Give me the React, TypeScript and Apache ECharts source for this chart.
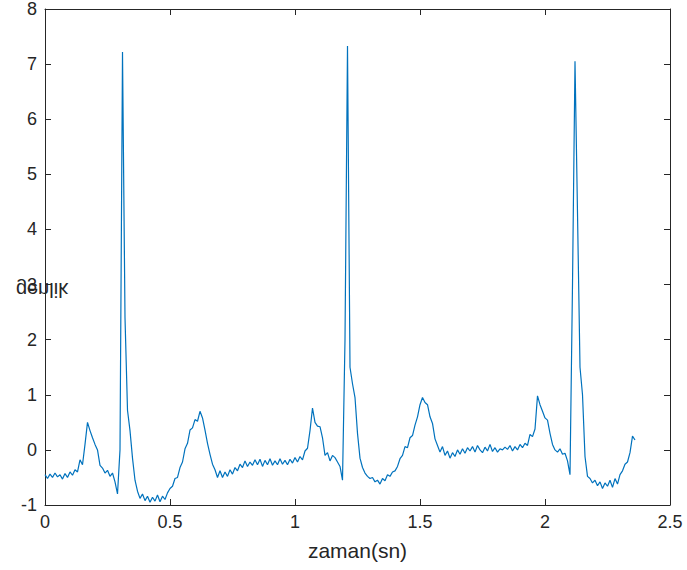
import React, { useEffect, useRef } from "react";
import * as echarts from "echarts";

// ECG trace sampled every 10 ms starting at t = 0 s
const sampleStart = 0;
const samplePeriod = 0.01;
const voltage: number[] = [
  -0.45, -0.52, -0.44, -0.50, -0.42, -0.49, -0.45, -0.53, -0.43, -0.50,
  -0.40, -0.46, -0.36, -0.40, -0.18, -0.27, 0.10, 0.50, 0.35, 0.22,
  0.10, 0.00, -0.28, -0.33, -0.42, -0.37, -0.48, -0.42, -0.58, -0.80,
  0.00, 7.22, 2.40, 0.72, 0.35, -0.15, -0.55, -0.75, -0.88, -0.80,
  -0.92, -0.84, -0.95, -0.86, -0.93, -0.82, -0.94, -0.84, -0.90, -0.78,
  -0.70, -0.66, -0.52, -0.50, -0.32, -0.22, 0.02, 0.12, 0.36, 0.40,
  0.55, 0.52, 0.70, 0.58, 0.36, 0.12, -0.08, -0.26, -0.36, -0.50,
  -0.38, -0.50, -0.40, -0.48, -0.36, -0.44, -0.32, -0.38, -0.26, -0.32,
  -0.20, -0.30, -0.22, -0.28, -0.18, -0.27, -0.17, -0.30, -0.19, -0.27,
  -0.16, -0.28, -0.20, -0.27, -0.16, -0.26, -0.19, -0.27, -0.17, -0.24,
  -0.14, -0.22, -0.12, -0.18, -0.02, 0.03, 0.35, 0.76, 0.50, 0.43,
  0.42, 0.22, -0.10, -0.05, -0.20, -0.10, -0.14, -0.22, -0.30, -0.55,
  2.00, 7.33, 1.50, 1.20, 0.95, 0.30, -0.15, -0.32, -0.42, -0.48,
  -0.52, -0.50, -0.58, -0.55, -0.62, -0.52, -0.56, -0.45, -0.48, -0.40,
  -0.38, -0.30, -0.16, -0.10, 0.06, 0.04, 0.22, 0.26, 0.45, 0.60,
  0.82, 0.95, 0.86, 0.82, 0.60, 0.48, 0.20, 0.08, -0.04, 0.06,
  -0.10, -0.02, -0.15, -0.05, -0.12, 0.00, -0.08, 0.02, -0.06, 0.04,
  -0.02, 0.06, -0.04, 0.08, 0.00, -0.05, 0.05, -0.02, 0.10, -0.03,
  0.04, -0.04, 0.02, 0.00, 0.05, 0.01, 0.08, -0.02, 0.06, 0.00,
  0.10, 0.04, 0.12, 0.08, 0.28, 0.24, 0.38, 0.98, 0.82, 0.70,
  0.58, 0.54, 0.30, 0.10, 0.00, -0.04, 0.02, -0.08, -0.06, -0.20,
  -0.45, 3.00, 7.05, 4.30, 1.50, 1.00, -0.12, -0.48, -0.52, -0.60,
  -0.55, -0.65, -0.58, -0.70, -0.60, -0.66, -0.55, -0.68, -0.52, -0.62,
  -0.45, -0.38, -0.26, -0.22, -0.05, 0.25, 0.18,
];

const xTicks = { min: 0, max: 2.5, interval: 0.5 };
const yTicks = { min: -1, max: 8, interval: 1 };
const xLabel = "zaman(sn)";
const yLabel = "genlik";

const AXIS_COLOR = "#262626";
const FONT = "'Liberation Sans', Arial, sans-serif";

export default function App() {
  const ref = useRef<HTMLDivElement>(null);

  useEffect(() => {
    document.body.style.margin = "0";
    if (!ref.current) return;
    const chart = echarts.init(ref.current, undefined, { renderer: "svg" });

    const data = voltage.map((v, i) => [
      +(sampleStart + i * samplePeriod).toFixed(2),
      v,
    ]);

    const baseAxis = {
      type: "value" as const,
      axisLine: { show: true, onZero: false, lineStyle: { color: AXIS_COLOR, width: 1 } },
      axisTick: { show: true, inside: true, length: 6, lineStyle: { color: AXIS_COLOR, width: 1 } },
      splitLine: { show: false },
    };

    chart.setOption({
      animation: false,
      backgroundColor: "#ffffff",
      grid: { left: 45, right: 17, top: 8, bottom: 65, containLabel: false },
      xAxis: [
        {
          ...baseAxis,
          ...xTicks,
          position: "bottom",
          axisLabel: { color: AXIS_COLOR, fontSize: 18, fontFamily: FONT, margin: 8 },
          name: xLabel,
          nameLocation: "middle",
          nameGap: 35,
          nameTextStyle: { color: AXIS_COLOR, fontSize: 21, fontFamily: FONT },
        },
        {
          ...baseAxis,
          ...xTicks,
          position: "top",
          axisLabel: { show: false },
        },
      ],
      yAxis: [
        {
          ...baseAxis,
          ...yTicks,
          position: "left",
          axisLabel: { color: AXIS_COLOR, fontSize: 18, fontFamily: FONT, margin: 8 },
        },
        {
          ...baseAxis,
          ...yTicks,
          position: "right",
          axisLabel: { show: false },
        },
      ],
      graphic: [
        {
          type: "text",
          x: 42,
          y: 290,
          scaleY: -1,
          z: 100,
          style: {
            text: yLabel,
            fontSize: 20,
            fontFamily: FONT,
            fill: AXIS_COLOR,
            align: "center",
            verticalAlign: "middle",
          },
        },
      ],
      series: [
        {
          type: "line",
          data,
          xAxisIndex: 0,
          yAxisIndex: 0,
          showSymbol: false,
          symbol: "none",
          lineStyle: { color: "#0072BD", width: 1.2 },
          itemStyle: { color: "#0072BD" },
        },
      ],
    });

    return () => chart.dispose();
  }, []);

  return <div ref={ref} style={{ width: 687, height: 570 }} />;
}
